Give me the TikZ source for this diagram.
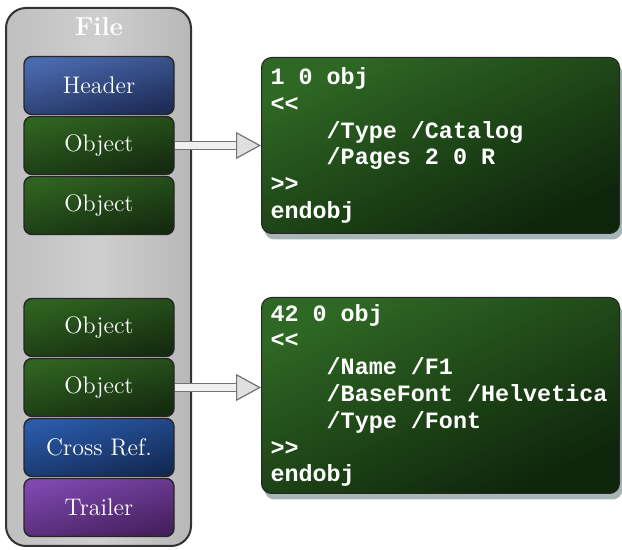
\documentclass[tikz,border=0pt]{standalone}
\usepackage{fontspec}
\setmonofont{Liberation Mono}
\usetikzlibrary{arrows.meta}
\usetikzlibrary{shadows}
\usetikzlibrary{calc}
\usetikzlibrary{math}

\definecolor{headtop}{HTML}{4A6AAE}
\definecolor{headbot}{HTML}{1E2C58}
\definecolor{objtop}{HTML}{2F6320}
\definecolor{objbot}{HTML}{152B10}
\definecolor{xreftop}{HTML}{2A5AA8}
\definecolor{xrefbot}{HTML}{132A55}
\definecolor{trailtop}{HTML}{7E48AE}
\definecolor{trailbot}{HTML}{46205E}
\definecolor{codetop}{HTML}{2F6824}
\definecolor{codebot}{HTML}{0E240B}

% monospaced spaces as wide as a character
\newcommand{\codespace}{\spaceskip 0.6em\relax}

\tikzset{
  part/.style 2 args={draw=black!85, line width=0.7pt, rounded corners=4pt,
    minimum width=75pt, minimum height=29pt, text=white,
    top color=#1, bottom color=#2, shading angle=15,
    font=\fontsize{12}{14}\selectfont},
  codebox/.style={draw=black!85, line width=0.5pt, rounded corners=5pt,
    anchor=north west, align=left, text=white, inner xsep=4.5pt,
    top color=codetop, bottom color=codebot, shading angle=25,
    font=\fontsize{11.7}{13.4}\selectfont\ttfamily\bfseries,
    execute at begin node=\codespace,
    drop shadow={shadow xshift=1.5pt, shadow yshift=-3pt, opacity=0.35,
      fill=teal!35!black}},
  fatarrow/.style={draw=black!55, line width=0.6pt, double=black!6,
    double distance=3.5pt,
    -{Triangle[open, length=12.5pt, width=13.5pt, fill=black!12]}},
}

\begin{document}
\begin{tikzpicture}[x=0.5pt,y=-0.5pt]

  \tikzmath{
    \colx  = 99;    % centre of the column of parts
    \gap   = 60;    % distance between two parts
    \upy   = 85.5;  % centre of the header
    \lowy  = 327.5; % centre of the lower group
  }

  \useasboundingbox (0,0) rectangle (622,550);

  % the file
  \draw[draw=black!80, line width=1pt, rounded corners=10pt,
    left color=black!25, right color=black!28, middle color=black!19]
    (6,8) rectangle (191,546);
  \node[text=white, font=\fontsize{13}{15}\selectfont\bfseries] (file) at (\colx,27) {File};

  % parts of the file
  \node[part={headtop}{headbot}]   (header)  at (\colx,\upy)         {Header};
  \node[part={objtop}{objbot}]     (objA)    at (\colx,\upy+\gap)    {Object};
  \node[part={objtop}{objbot}]     (objB)    at (\colx,\upy+2*\gap)  {Object};
  \node[part={objtop}{objbot}]     (objC)    at (\colx,\lowy)        {Object};
  \node[part={objtop}{objbot}]     (objD)    at (\colx,\lowy+\gap)   {Object};
  \node[part={xreftop}{xrefbot}]   (xref)    at (\colx,\lowy+2*\gap) {Cross Ref.};
  \node[part={trailtop}{trailbot}] (trailer) at (\colx,\lowy+3*\gap) {Trailer};

  % the objects written out
  \node[codebox, text width=170pt, minimum height=88pt] (codeA) at (261,57)
    {1 0 obj\\
     <<\\
     \phantom{0000}/Type /Catalog\\
     \phantom{0000}/Pages 2 0 R\\
     >>\\
     endobj};

  \node[codebox, text width=170pt, minimum height=98pt] (codeB) at (261,297)
    {42 0 obj\\
     <<\\
     \phantom{0000}/Name /F1\\
     \phantom{0000}/BaseFont /Helvetica\\
     \phantom{0000}/Type /Font\\
     >>\\
     endobj};

  % arrows
  \draw[fatarrow] (objA.east) -- (objA.east -| codeA.west);
  \draw[fatarrow] (objD.east) -- (objD.east -| codeB.west);

\end{tikzpicture}
\end{document}
